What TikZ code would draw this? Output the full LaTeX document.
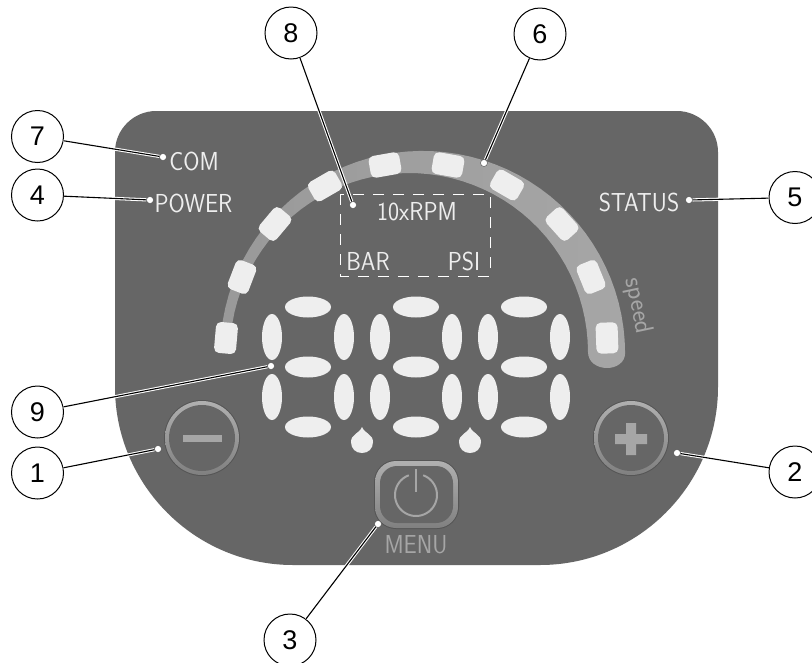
\documentclass[tikz,border=0pt]{standalone}
\usepackage{graphicx}
\usepackage{fontspec}
\setmainfont{Liberation Sans}
\usetikzlibrary{shapes.geometric}
\definecolor{panel}{HTML}{666666}
\definecolor{band}{HTML}{A6A6A6}
\definecolor{lamp}{HTML}{EEEEEE}
\definecolor{ringlight}{HTML}{B0B0B0}
\definecolor{ringdark}{HTML}{808080}
\definecolor{rim}{HTML}{555555}
\newcommand{\narrow}[1]{\scalebox{0.9}[1]{#1}}
\tikzset{
  callout/.style={draw, circle, minimum size=52pt, inner sep=0pt, line width=1pt, fill=white, font=\fontsize{27}{27}\selectfont},
  tipdot/.style={draw=black!70, circle, fill=white, minimum size=7pt, inner sep=0pt, line width=0.4pt},
  leader/.style={line width=1.1pt},
  halo/.style={white, line width=3.2pt},
  led/.style={fill=lamp, rounded corners=5pt, minimum width=31pt, minimum height=22pt, inner sep=0pt},
  seg/.style={fill=lamp, ellipse, inner sep=0pt},
  panellabel/.style={text=lamp, inner sep=0pt, font=\sffamily\fontsize{26}{26}\selectfont},
  keylabel/.style={text=band, inner sep=0pt, font=\sffamily\fontsize{26}{26}\selectfont},
  keyedge/.style={top color=ringlight, bottom color=ringdark}
}
\begin{document}
\begin{tikzpicture}[x=1pt, y=-1pt]
    \clip (0, 0) rectangle (812, 662);
    \fill[white] (0, 0) rectangle (812, 662);

    % panel
    \fill[panel] (115, 387) -- (115, 152) .. controls (115, 129) and (134, 111) .. (156, 111)
      -- (677, 111) .. controls (699, 111) and (718, 129) .. (718, 152) -- (718, 387)
      .. controls (718, 485) and (638, 565) .. (540, 565) -- (293, 565)
      .. controls (195, 565) and (115, 485) .. (115, 387) -- cycle;

    % gauge
    \shade[left color=band!80!panel, right color=band] plot[domain=178:0, samples=50] ({422.6+202.5*cos(\x)}, {353.4-202.5*sin(\x)})
      .. controls (625, 362) and (617, 368) .. (607, 368) .. controls (597, 368) and (588, 362) .. (588, 352)
      -- plot[domain=0:178, samples=50] ({409+179*cos(\x)}, {352-179*sin(\x)}) -- cycle;
    \foreach \px/\py/\ang in {226/338/85, 242/277/69, 275/224/50, 325/186/30, 385/165/10,
                              448/165/-10, 507/185/-30, 562/224/-48, 591/277/-68, 607/338/-88}
      \node[led, rotate=\ang] at (\px, \py) {};

    % digits
    \foreach \dx in {0, 108, 216} {
      \foreach \sy in {307, 367, 427}
        \node[seg, minimum width=46pt, minimum height=21pt] at (308+\dx, \sy) {};
      \foreach \sx in {272, 344}
        \foreach \sy in {337, 397}
          \node[seg, minimum width=20pt, minimum height=46pt] at (\sx+\dx, \sy) {};
    }
    \foreach \dx in {362, 470}
      \fill[lamp] (\dx, 427) .. controls (\dx+3, 434) and (\dx+11, 434) .. (\dx+11, 442)
        .. controls (\dx+11, 449) and (\dx+6, 453) .. (\dx, 453)
        .. controls (\dx-6, 453) and (\dx-11, 449) .. (\dx-11, 442)
        .. controls (\dx-11, 434) and (\dx-3, 434) .. (\dx, 427) -- cycle;

    % texts
    \node[panellabel] (com) at (194, 161) {\narrow{COM}};
    \node[panellabel] (power) at (193.5, 203) {\narrow{POWER}};
    \node[panellabel] (status) at (639, 202) {\narrow{STATUS}};
    \node[panellabel] (rpm) at (417, 212) {\narrow{10xRPM}};
    \node[panellabel] (bar) at (368, 261) {\narrow{BAR}};
    \node[panellabel] (psi) at (464, 261) {\narrow{PSI}};
    \draw[white, line width=0.9pt, dash pattern=on 11pt off 9pt] (340, 194) rectangle (490, 276);
    \node[keylabel, rotate=-78] (speed) at (638, 306) {speed};
    \node[keylabel] (menu) at (416, 545) {\narrow{MENU}};

    % keys
    \fill[rim] (202, 438) circle (38);
    \shade[keyedge] (202, 438) circle (37);
    \fill[panel] (202, 438) circle (33);
    \fill[band] (183, 435) rectangle (222, 442);
    \fill[rim] (631, 438) circle (38);
    \shade[keyedge] (631, 438) circle (37);
    \fill[panel] (631, 438) circle (33);
    \fill[band] (615, 434) rectangle (647, 444) (626, 423) rectangle (636, 455);
    \fill[rim, rounded corners=22pt] (374, 460) rectangle (459, 529);
    \shade[keyedge, rounded corners=21pt] (375, 461) rectangle (458, 528);
    \fill[panel, rounded corners=17pt] (380, 466) rectangle (453, 523);
    \draw[band, line width=2pt] plot[domain=110:430, samples=50] ({416+21*cos(\x)}, {495-21*sin(\x)});
    \draw[band, line width=2.4pt] (416, 469) -- (416, 492);

    % callouts
    \node[callout] (c7) at (37.5, 136.5) {7};
    \node[callout] (c4) at (37.5, 195) {4};
    \node[callout] (c8) at (291, 33) {8};
    \node[callout] (c6) at (540, 34) {6};
    \node[callout] (c5) at (795, 197.5) {5};
    \node[callout] (c9) at (37.5, 412) {9};
    \node[callout] (c1) at (37.5, 473) {1};
    \node[callout] (c2) at (795, 472) {2};
    \node[callout] (c3) at (290, 640) {3};

    \node[tipdot] (d7) at (163, 157) {};
    \node[tipdot] (d4) at (150, 200) {};
    \node[tipdot] (d8) at (353, 205) {};
    \node[tipdot] (d6) at (484, 163) {};
    \node[tipdot] (d5) at (689, 200) {};
    \node[tipdot] (d9) at (271, 366) {};
    \node[tipdot] (d1) at (158, 449) {};
    \node[tipdot] (d2) at (677, 453) {};
    \node[tipdot] (d3) at (378, 524) {};

    \foreach \a/\b in {c7/d7, c4/d4, c8/d8, c6/d6, c5/d5, c9/d9, c1/d1, c2/d2, c3/d3} {
      \draw[halo] (\a) -- (\b);
      \draw[leader] (\a) -- (\b);
    }
\end{tikzpicture}
\end{document}
